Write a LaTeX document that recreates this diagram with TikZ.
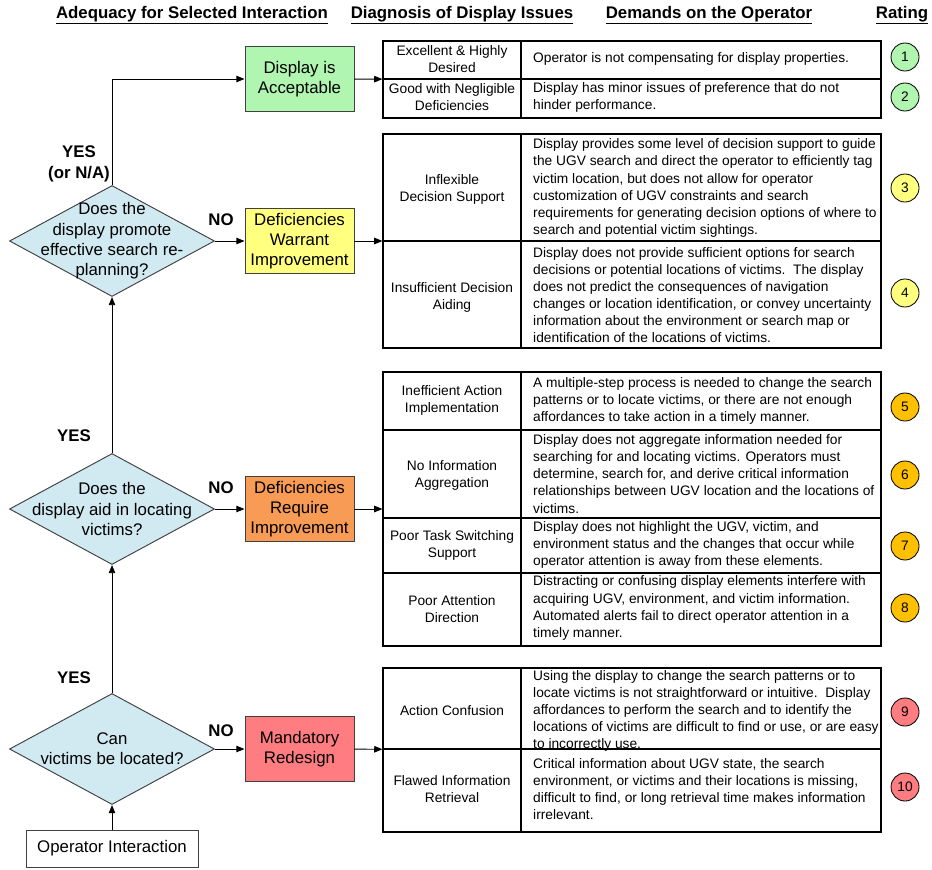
\documentclass[tikz,border=0pt]{standalone}
\usepackage{fontspec}
\setmainfont{Liberation Sans}
\usepackage{xcolor}
\usetikzlibrary{shapes.geometric,arrows.meta}
\definecolor{ask}{HTML}{D1E9F0}
\definecolor{good}{HTML}{B0F5B0}
\definecolor{warn}{HTML}{FFFF80}
\definecolor{req}{HTML}{F79B55}
\definecolor{gold}{HTML}{FFC000}
\definecolor{bad}{HTML}{FF7C80}
\definecolor{edge}{HTML}{404040}
\newcommand{\pxu}{0.8504pt}
\newcommand{\bigf}{\fontsize{14.3}{17.3}\selectfont}
\newcommand{\smallf}{\fontsize{11.7}{14.5}\selectfont}
\tikzset{
  dia/.style={diamond, draw=edge, fill=ask, line width=0.8pt, inner sep=0pt,
    minimum width=205*\pxu, minimum height=111*\pxu},
  txt/.style={align=center, font=\bigf, inner sep=0pt},
  stepbox/.style={draw=edge, line width=0.8pt, align=center, font=\bigf, inner sep=0pt,
    minimum width=109*\pxu, minimum height=65*\pxu},
  tab/.style={draw=black, line width=0.9pt, inner sep=0pt, minimum width=498*\pxu},
  split/.style={draw=black, line width=0.9pt},
  cella/.style={align=center, font=\smallf, inner sep=0pt},
  cellb/.style={align=left, font=\smallf, anchor=west, inner sep=0pt},
  rate/.style={circle, draw=black, line width=0.7pt, inner sep=0pt,
    minimum size=28*\pxu, font=\smallf},
  yn/.style={align=center, font=\bigf\bfseries, inner sep=0pt},
  head/.style={font=\bigf\bfseries, inner sep=0pt},
  arr/.style={draw=black, line width=0.8pt, -{Triangle[length=7pt,width=5.5pt]}},
}

\begin{document}
\begin{tikzpicture}[x=0.8504pt,y=-0.8504pt]
  \useasboundingbox (0,0) rectangle (932,869);

  \node[head] (h1) at (192,15) {\underline{Adequacy for Selected Interaction}};
  \node[head] (h2) at (462,15) {\underline{Diagnosis of Display Issues}};
  \node[head] (h3) at (709,15) {\underline{Demands on the Operator}};
  \node[head] (h4) at (902,15) {\underline{Rating}};

  % decisions
  \node[dia] (d1) at (112,241) {};
  \node[txt] at (d1) {Does the\\display promote\\effective search re-\\planning?};
  \node[dia] (d2) at (112,509) {};
  \node[txt] at (d2) {Does the\\display aid in locating\\victims?};
  \node[dia] (d3) at (112,749) {};
  \node[txt] at (d3) {Can\\victims be located?};
  \node[stepbox, minimum width=172*\pxu, minimum height=37*\pxu, fill=white] (op) at (112,848.5) {Operator Interaction};

  % outcomes
  \node[stepbox, fill=good] (ok) at (299.5,79) {Display is\\Acceptable};
  \node[stepbox, fill=warn] (war) at (299.5,241) {Deficiencies\\Warrant\\Improvement};
  \node[stepbox, fill=req] (reqd) at (299.5,509) {Deficiencies\\Require\\Improvement};
  \node[stepbox, fill=bad] (redo) at (299.5,749) {Mandatory\\Redesign};

  \node[yn] (y1) at (79,164) {YES\\(or N/A)};
  \node[yn] (y2) at (74,436) {YES};
  \node[yn] (y3) at (74,678) {YES};
  \node[yn] (n1) at (221,220) {NO};
  \node[yn] (n2) at (221,488) {NO};
  \node[yn] (n3) at (221,731) {NO};

  % tables
  \node[tab, minimum height=77*\pxu] (t1) at (632,79.5) {};
  \draw[split] (521,41) -- (521,118);
  \draw[split] (383,79) -- (881,79);
  \node[tab, minimum height=214*\pxu] (t2) at (632,241) {};
  \draw[split] (521,134) -- (521,348);
  \draw[split] (383,241) -- (881,241);
  \node[tab, minimum height=274*\pxu] (t3) at (632,509) {};
  \draw[split] (521,372) -- (521,646);
  \draw[split] (383,430) -- (881,430);
  \draw[split] (383,518) -- (881,518);
  \draw[split] (383,573) -- (881,573);
  \node[tab, minimum height=164*\pxu] (t4) at (632,750) {};
  \draw[split] (521,668) -- (521,832);
  \draw[split] (383,749) -- (881,749);

  \node[cella] (a1) at (452,59) {Excellent \& Highly\\Desired};
  \node[cellb] (b1) at (533,59) {Operator is not compensating for display properties.};
  \node[cella] (a2) at (452,97) {Good with Negligible\\Deficiencies};
  \node[cellb] (b2) at (533,97) {Display has minor issues of preference that do not\\hinder performance.};

  \node[cella] (a3) at (452,189) {Inflexible\\Decision Support};
  \node[cellb] (b3) at (533,188) {Display provides some level of decision support to guide\\the UGV search and direct the operator to efficiently tag\\victim location, but does not allow for operator\\customization of UGV constraints and search\\requirements for generating decision options of where to\\search and potential victim sightings.};
  \node[cella] (a4) at (452,297) {Insufficient Decision\\Aiding};
  \node[cellb] (b4) at (533,295) {Display does not provide sufficient options for search\\decisions or potential locations of victims.\ \ The display\\does not predict the consequences of navigation\\changes or location identification, or convey uncertainty\\information about the environment or search map or\\identification of the locations of victims.};

  \node[cella] (a5) at (452,400) {Inefficient Action\\Implementation};
  \node[cellb] (b5) at (533,401) {A multiple-step process is needed to change the search\\patterns or to locate victims, or there are not enough\\affordances to take action in a timely manner.};
  \node[cella] (a6) at (452,475) {No Information\\Aggregation};
  \node[cellb] (b6) at (533,474) {Display does not aggregate information needed for\\searching for and locating victims. Operators must\\determine, search for, and derive critical information\\relationships between UGV location and the locations of\\victims.};
  \node[cella] (a7) at (452,545) {Poor Task Switching\\Support};
  \node[cellb] (b7) at (533,545) {Display does not highlight the UGV, victim, and\\environment status and the changes that occur while\\operator attention is away from these elements.};
  \node[cella] (a8) at (452,609) {Poor Attention\\Direction};
  \node[cellb] (b8) at (533,608) {Distracting or confusing display elements interfere with\\acquiring UGV, environment, and victim information.\\Automated alerts fail to direct operator attention in a\\timely manner.};

  \node[cella] (a9) at (452,711) {Action Confusion};
  \node[cellb] (b9) at (533,711) {Using the display to change the search patterns or to\\locate victims is not straightforward or intuitive.\ \ Display\\affordances to perform the search and to identify the\\locations of victims are difficult to find or use, or are easy\\to incorrectly use.};
  \node[cella] (a10) at (452,789) {Flawed Information\\Retrieval};
  \node[cellb] (b10) at (533,789) {Critical information about UGV state, the search\\environment, or victims and their locations is missing,\\difficult to find, or long retrieval time makes information\\irrelevant.};

  % ratings
  \foreach \n/\y/\c in {1/57/good,2/97/good,3/188/warn,4/293/warn,5/407/gold,
      6/475/gold,7/546/gold,8/608/gold,9/712/bad,10/787/bad}
    \node[rate, fill=\c] (r\n) at (905,\y) {\n};

  % connectors
  \draw[arr] (op) -- (d3);
  \draw[arr] (d3) -- (d2);
  \draw[arr] (d2) -- (d1);
  \draw[arr] (d1) |- (ok);
  \draw[arr] (d1) -- (war);
  \draw[arr] (d2) -- (reqd);
  \draw[arr] (d3) -- (redo);
  \draw[arr] (ok) -- (t1);
  \draw[arr] (war) -- (t2);
  \draw[arr] (reqd) -- (t3);
  \draw[arr] (redo) -- (t4);
\end{tikzpicture}
\end{document}
